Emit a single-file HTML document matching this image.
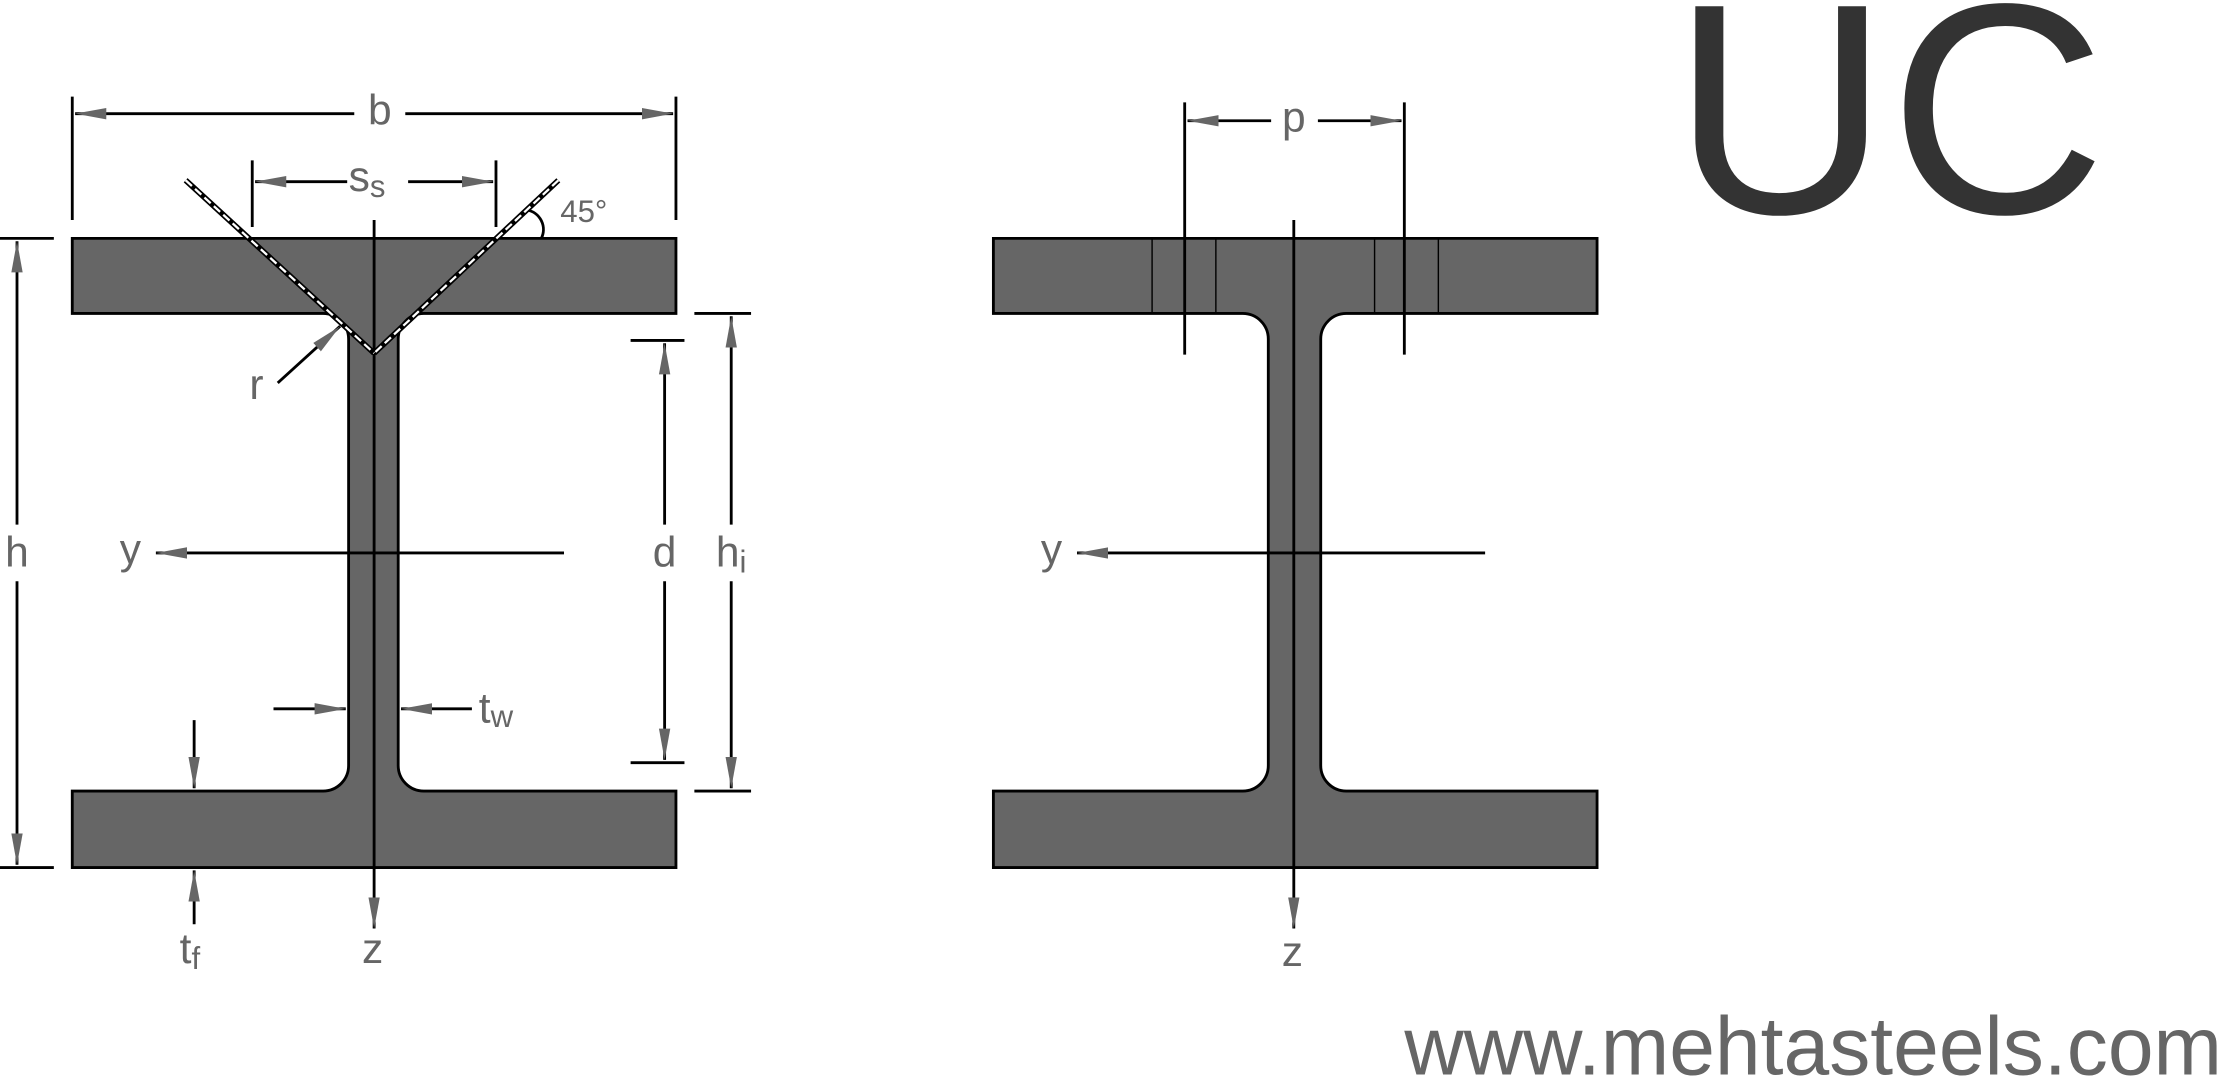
<!DOCTYPE html>
<html><head><meta charset="utf-8"><style>
html,body{margin:0;padding:0;background:#fff;width:2222px;height:1079px;overflow:hidden}
svg{display:block}
text{font-family:"Liberation Sans",sans-serif}
</style></head><body>
<svg width="2222" height="1079" viewBox="0 0 1568 761" xmlns="http://www.w3.org/2000/svg">
<defs>
<marker id="ar" viewBox="0 0 22 10" refX="22" refY="5" markerWidth="22" markerHeight="10" markerUnits="userSpaceOnUse" orient="auto-start-reverse">
<path d="M0,1 L22,5 L0,9 z" fill="#666"/></marker>
</defs>
<g fill="#666" stroke="#000" stroke-width="2">
<path d="M51,168 H477 V221 H299 a18,18 0 0 0 -18,18 V540 a18,18 0 0 0 18,18 H477 V612 H51 V558 H228 a18,18 0 0 0 18,-18 V239 a18,18 0 0 0 -18,-18 H51 Z"/>
<path d="M701,168 H1127 V221 H950 a18,18 0 0 0 -18,18 V540 a18,18 0 0 0 18,18 H1127 V612 H701 V558 H877 a18,18 0 0 0 18,-18 V239 a18,18 0 0 0 -18,-18 H701 Z"/>
</g>
<g stroke="#000" stroke-width="1" fill="none">
<rect x="813" y="168" width="45" height="53"/>
<rect x="970" y="168" width="45" height="53"/>
</g>
<g stroke="#000" stroke-width="2" fill="none">
<line x1="264" y1="155" x2="264" y2="655" marker-end="url(#ar)"/>
<line x1="398" y1="390" x2="110" y2="390" marker-end="url(#ar)"/>
<line x1="51" y1="68" x2="51" y2="155"/><line x1="477" y1="68" x2="477" y2="155"/>
<line x1="250" y1="80" x2="53" y2="80" marker-end="url(#ar)"/>
<line x1="286" y1="80" x2="475" y2="80" marker-end="url(#ar)"/>
<line x1="178" y1="113" x2="178" y2="160"/><line x1="350" y1="113" x2="350" y2="160"/>
<line x1="245" y1="128" x2="180" y2="128" marker-end="url(#ar)"/>
<line x1="288" y1="128" x2="348" y2="128" marker-end="url(#ar)"/>
<line x1="0" y1="168" x2="38" y2="168"/><line x1="0" y1="612" x2="38" y2="612"/>
<line x1="12" y1="370" x2="12" y2="170" marker-end="url(#ar)"/>
<line x1="12" y1="410" x2="12" y2="610" marker-end="url(#ar)"/>
<line x1="445" y1="240" x2="483" y2="240"/><line x1="445" y1="538" x2="483" y2="538"/>
<line x1="469" y1="370" x2="469" y2="242" marker-end="url(#ar)"/>
<line x1="469" y1="410" x2="469" y2="536" marker-end="url(#ar)"/>
<line x1="490" y1="221" x2="530" y2="221"/><line x1="490" y1="558" x2="530" y2="558"/>
<line x1="516" y1="370" x2="516" y2="223" marker-end="url(#ar)"/>
<line x1="516" y1="410" x2="516" y2="556" marker-end="url(#ar)"/>
<line x1="193" y1="500" x2="244" y2="500" marker-end="url(#ar)"/>
<line x1="333" y1="500" x2="283" y2="500" marker-end="url(#ar)"/>
<line x1="137" y1="508" x2="137" y2="556" marker-end="url(#ar)"/>
<line x1="137" y1="652" x2="137" y2="614" marker-end="url(#ar)"/>
<line x1="196" y1="270" x2="240" y2="230" marker-end="url(#ar)"/>
<path d="M372,148 A14,14 0 0 1 382,168" stroke-width="2"/>
<line x1="913" y1="155" x2="913" y2="655" marker-end="url(#ar)"/>
<line x1="1048" y1="390" x2="760" y2="390" marker-end="url(#ar)"/>
<line x1="836" y1="72" x2="836" y2="250"/><line x1="991" y1="72" x2="991" y2="250"/>
<line x1="897" y1="85" x2="838" y2="85" marker-end="url(#ar)"/>
<line x1="930" y1="85" x2="989" y2="85" marker-end="url(#ar)"/>
</g>
<g stroke="#000" stroke-width="4" fill="none">
<line x1="131" y1="127" x2="264" y2="249"/><line x1="394" y1="127" x2="264" y2="249"/>
</g>
<g stroke="#fff" stroke-width="1.6" stroke-dasharray="6 3" fill="none">
<line x1="131" y1="127" x2="264" y2="249"/><line x1="394" y1="127" x2="264" y2="249"/>
</g>
<g fill="#666" font-size="30" text-anchor="middle" dominant-baseline="central">
<text x="268" y="78">b</text>
<text x="259" y="125">s<tspan font-size="22" dy="6">s</tspan></text>
<text x="412" y="149" font-size="22">45°</text>
<text x="181" y="272">r</text>
<text x="12" y="390">h</text>
<text x="92" y="388">y</text>
<text x="469" y="390">d</text>
<text x="516" y="390">h<tspan font-size="22" dy="6">i</tspan></text>
<text x="350" y="500">t<tspan font-size="22" dy="5">w</tspan></text>
<text x="134" y="670">t<tspan font-size="22" dy="6">f</tspan></text>
<text x="263" y="670">z</text>
<text x="913" y="83">p</text>
<text x="742" y="388">y</text>
<text x="912" y="672">z</text>
</g>
<text x="1180" y="150" font-size="212" fill="#333">UC</text>
<text x="1568" y="758" font-size="58" fill="#666" text-anchor="end">www.mehtasteels.com</text>
</svg>
</body></html>
